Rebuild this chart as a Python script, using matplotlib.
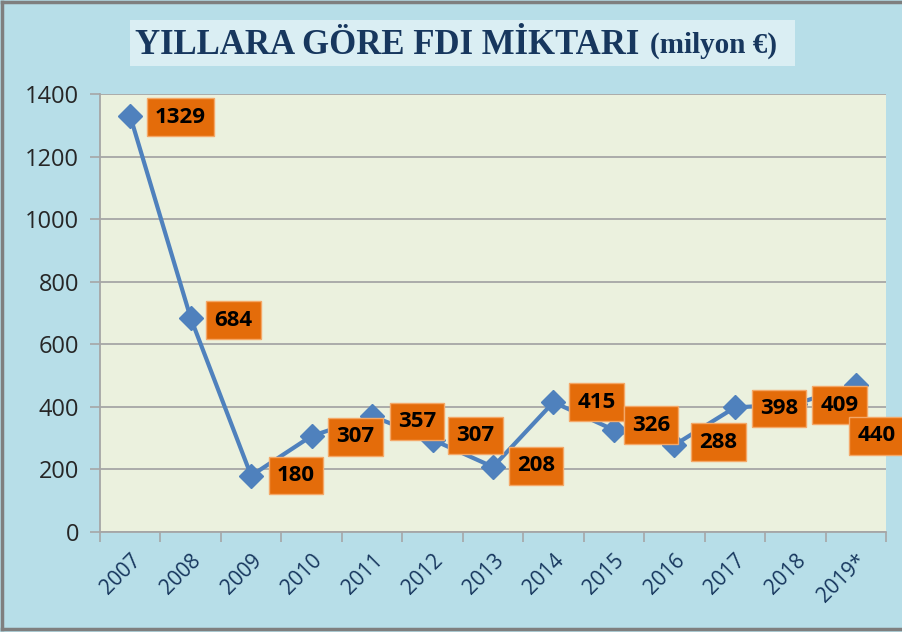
import matplotlib.pyplot as plt
from matplotlib.lines import Line2D
import numpy as np

# Years on the x axis
years = ["2007", "2008", "2009", "2010", "2011", "2012", "2013",
         "2014", "2015", "2016", "2017", "2018", "2019*"]
fdi_line = [1329, 684, 180, 307, 370, 295, 208, 415, 326, 278, 398, 409, 470]
# Values written in the orange boxes
fdi_labels = ["1329", "684", "180", "307", "357", "307", "208",
              "415", "326", "288", "398", "409", "440"]

# where each box sits relative to its marker (pixels)
label_offsets = [(50, -1), (43, -2), (45, 0), (44, -1), (45, -5), (43, 4), (43, 1),
                 (43, 0), (37, 5), (44, 3), (44, -1), (44, -1), (21, -51)]

fig_bg = "#b7dee8"
plot_bg = "#ebf1de"
navy = "#17375e"

fig = plt.figure(figsize=(9.02, 6.32), dpi=100)
fig.patch.set_facecolor(fig_bg)

ax = fig.add_axes([100 / 902, 100 / 632, 786 / 902, 438 / 632])
ax.set_facecolor(plot_bg)

x = np.arange(len(years))
ax.plot(x, fdi_line, color="#4f81bd", linewidth=3, marker="D",
        markersize=12, zorder=3, clip_on=False)

for i, (val, txt) in enumerate(zip(fdi_line, fdi_labels)):
    ax.annotate(txt, (i, val), xytext=label_offsets[i], textcoords="offset pixels",
                ha="center", va="center", fontsize=16, fontweight="bold",
                family="Open Sans", color="black", zorder=5, annotation_clip=False,
                bbox=dict(boxstyle="square,pad=0.37", facecolor="#e46c0a",
                          edgecolor="#f4a868", linewidth=1))

ax.set_xlim(-0.5, len(years) - 0.5)
ax.set_ylim(0, 1400)
ax.set_yticks(range(0, 1401, 200))
ax.grid(axis="y", color="#a6a6a6", linewidth=1.3)
ax.set_axisbelow(True)

# major ticks between categories, labels on minor ticks at the centers
ax.set_xticks(np.arange(-0.5, len(years), 1))
ax.set_xticklabels([])
ax.set_xticks(x, minor=True)
ax.set_xticklabels(years, minor=True, rotation=45, ha="right", va="top",
                   rotation_mode="anchor", fontsize=15, color=navy, family="Open Sans")
ax.tick_params(axis="x", which="major", length=7, color="#a6a6a6", width=1.2)
ax.tick_params(axis="x", which="minor", length=0, pad=13)
ax.tick_params(axis="y", length=7, color="#a6a6a6", width=1.2, labelsize=17,
               labelcolor="#262626", pad=8)
for lbl in ax.get_yticklabels():
    lbl.set_family("Open Sans")

for side in ["top", "right"]:
    ax.spines[side].set_visible(False)
ax.spines["left"].set_color("#a6a6a6")
ax.spines["bottom"].set_color("#a6a6a6")
ax.spines["left"].set_linewidth(1.3)
ax.spines["bottom"].set_linewidth(1.3)

# title box
fig.patches.append(plt.Rectangle((130 / 902, 1 - 66 / 632), 665 / 902, 46 / 632,
                                 transform=fig.transFigure, facecolor="#daeef3",
                                 edgecolor="none", zorder=0))
fig.text(135 / 902, 1 - 45 / 632, "YILLARA GÖRE FDI MİKTARI", fontsize=25,
         fontweight="bold", family="Liberation Serif", color=navy, va="center", ha="left")
fig.text(650 / 902, 1 - 45 / 632, "(milyon €)", fontsize=21,
         fontweight="bold", family="Liberation Serif", color=navy, va="center", ha="left")

# grey frame around the picture
frame_kw = dict(color="#7f7f7f", linewidth=2.5, transform=fig.transFigure)
fig.add_artist(Line2D([0.002, 1], [0.997, 0.997], **frame_kw))
fig.add_artist(Line2D([0.002, 0.002], [0.005, 0.997], **frame_kw))
fig.add_artist(Line2D([0.002, 1], [0.005, 0.005], **frame_kw))

fig.savefig("out.png", dpi=100, facecolor=fig.get_facecolor())
